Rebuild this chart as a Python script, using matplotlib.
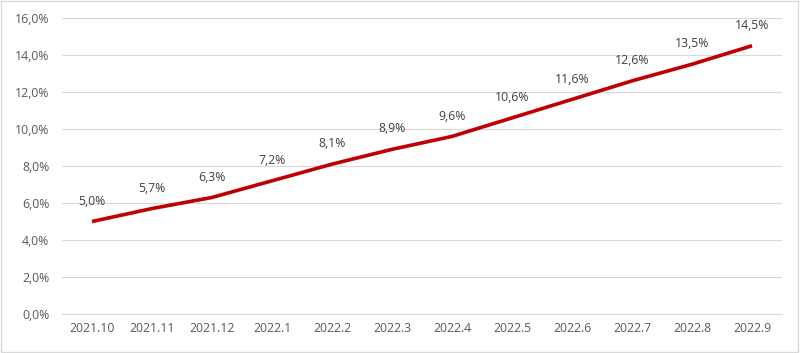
import matplotlib
matplotlib.use("Agg")
import matplotlib.pyplot as plt
from matplotlib.patches import Rectangle
from matplotlib.ticker import FuncFormatter

months = ["2021.10", "2021.11", "2021.12", "2022.1", "2022.2", "2022.3",
          "2022.4", "2022.5", "2022.6", "2022.7", "2022.8", "2022.9"]
rates = [5.0, 5.7, 6.3, 7.2, 8.1, 8.9, 9.6, 10.6, 11.6, 12.6, 13.5, 14.5]

plt.rcParams["font.family"] = ["Open Sans", "DejaVu Sans"]
text_color = "#595959"

fig = plt.figure(figsize=(8, 3.53), dpi=100)
ax = fig.add_axes([0.0775, 0.1105, 0.9, 0.8385])

x = range(len(months))
ax.plot(x, rates, color="#C00000", linewidth=2.6, solid_capstyle="butt")

for xi, v in zip(x, rates):
    ax.annotate(f"{v:.1f}%".replace(".", ","), (xi, v), xytext=(0, 10),
                textcoords="offset points", ha="center", va="bottom",
                fontsize=8.8, color="#404040")

ax.set_xlim(-0.5, len(months) - 0.5)
ax.set_ylim(0, 16)
ax.set_yticks(range(0, 17, 2))
ax.yaxis.set_major_formatter(FuncFormatter(lambda v, _: f"{v:.1f}%".replace(".", ",")))
ax.set_xticks(list(x))
ax.set_xticklabels(months)
ax.tick_params(axis="both", length=0, labelsize=8.8, colors=text_color)
ax.tick_params(axis="x", pad=6)
ax.tick_params(axis="y", pad=9)
ax.grid(axis="y", color="#D9D9D9", linewidth=0.8)
ax.set_axisbelow(True)
for side in ["top", "right", "left"]:
    ax.spines[side].set_visible(False)
ax.spines["bottom"].set_color("#D9D9D9")
ax.spines["bottom"].set_linewidth(0.8)

fig.patches.append(Rectangle((0.001, 0.002), 0.997, 0.995, transform=fig.transFigure,
                             fill=False, edgecolor="#D9D9D9", linewidth=1))

fig.savefig("out.png", dpi=100)
